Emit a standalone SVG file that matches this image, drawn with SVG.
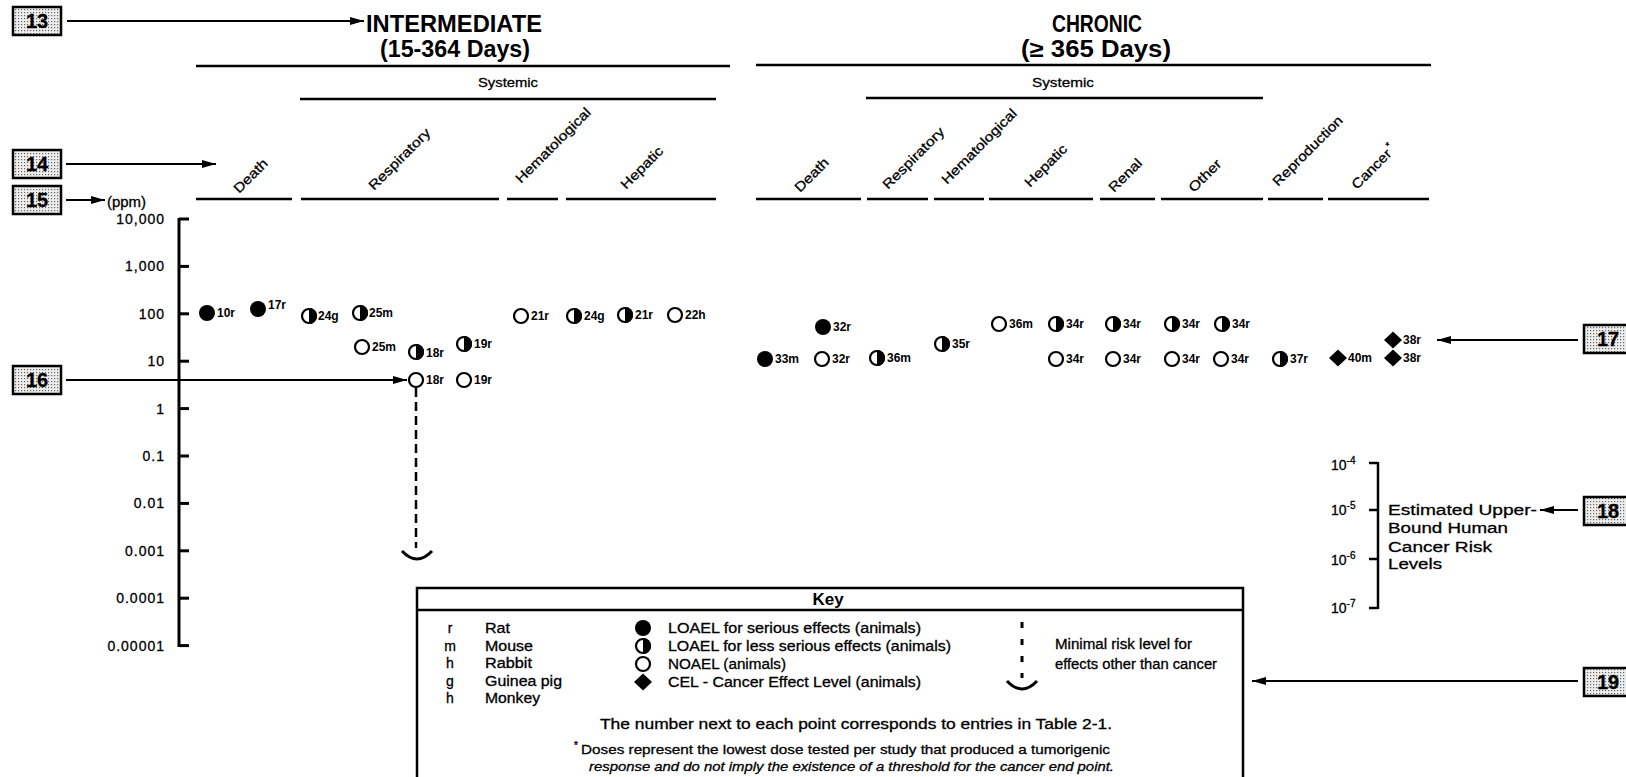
<svg xmlns="http://www.w3.org/2000/svg" width="1626" height="777" viewBox="0 0 1626 777">
<style>
text { font-family: "Liberation Sans", Arial, sans-serif; fill: #000; stroke: #000; stroke-width: 0.3px; }
.h { font-size: 23px; font-weight: bold; stroke: none; }
.sys { font-size: 13.5px; text-anchor: middle; }
.lbl { font-size: 12px; font-weight: bold; stroke: none; }
.ax { font-size: 14px; letter-spacing: 1px; text-anchor: end; }
.rot { font-size: 13.5px; }
.key { font-size: 14px; }
.fn { font-size: 13.5px; }
.num { font-size: 20px; font-weight: bold; text-anchor: middle; }
.ln { stroke: #000; stroke-width: 2.5; fill: none; }
.arr { stroke: #000; stroke-width: 2; fill: none; marker-end: url(#ah); }
.box { fill: url(#dots); stroke: #000; stroke-width: 2.5; }
.dash { stroke: #000; stroke-width: 2.5; fill: none; stroke-dasharray: 9 5; }
.smile { stroke: #000; stroke-width: 3; fill: none; }
</style>
<defs>
<pattern id="dots" width="3" height="3" patternUnits="userSpaceOnUse">
<rect width="3" height="3" fill="#eeeeee"/>
<rect width="1.2" height="1.2" fill="#666"/>
</pattern>
<marker id="ah" markerUnits="userSpaceOnUse" markerWidth="14" markerHeight="8" refX="14" refY="4" orient="auto">
<path d="M0,0 L14,4 L0,8 Z" fill="#000"/>
</marker>
<g id="sF"><circle r="8" fill="#000"/></g>
<g id="sH"><circle r="7" fill="#fff" stroke="#000" stroke-width="2.2"/><path d="M0,-8 A8,8 0 0 1 0,8 Z" fill="#000"/></g>
<g id="sO"><circle r="7" fill="#fff" stroke="#000" stroke-width="2.2"/></g>
<g id="sD"><path d="M0,-8.5 L9,0 L0,8.5 L-9,0 Z" fill="#000"/></g>
</defs>
<rect width="1626" height="777" fill="#fff"/>

<!-- numbered callout boxes -->
<g id="box13"><rect class="box" x="13" y="7" width="48" height="28"/><text class="num" x="37" y="28">13</text></g>
<g id="box14"><rect class="box" x="13" y="150" width="48" height="28"/><text class="num" x="37" y="171">14</text></g>
<g id="box15"><rect class="box" x="13" y="186" width="48" height="28"/><text class="num" x="37" y="207">15</text></g>
<g id="box16"><rect class="box" x="13" y="366" width="48" height="28"/><text class="num" x="37" y="387">16</text></g>
<g id="box17"><rect class="box" x="1584" y="325" width="48" height="28"/><text class="num" x="1608" y="346">17</text></g>
<g id="box18"><rect class="box" x="1584" y="497" width="48" height="28"/><text class="num" x="1608" y="518">18</text></g>
<g id="box19"><rect class="box" x="1584" y="668" width="48" height="28"/><text class="num" x="1608" y="689">19</text></g>

<!-- headings -->
<g id="hdr-intermediate">
<text class="h" x="366" y="32" textLength="176" lengthAdjust="spacingAndGlyphs">INTERMEDIATE</text>
<text class="h" x="380" y="57" textLength="150" lengthAdjust="spacingAndGlyphs">(15-364 Days)</text>
<line class="ln" x1="196" y1="66" x2="730" y2="66"/>
<text class="sys" x="508" y="87" textLength="60" lengthAdjust="spacingAndGlyphs">Systemic</text>
<line class="ln" x1="300" y1="99" x2="716" y2="99"/>
</g>
<g id="hdr-chronic">
<text class="h" x="1052" y="32" textLength="90" lengthAdjust="spacingAndGlyphs">CHRONIC</text>
<text class="h" x="1021" y="57" textLength="150" lengthAdjust="spacingAndGlyphs">(≥ 365 Days)</text>
<line class="ln" x1="756" y1="65" x2="1431" y2="65"/>
<text class="sys" x="1063" y="87" textLength="62" lengthAdjust="spacingAndGlyphs">Systemic</text>
<line class="ln" x1="866" y1="98" x2="1263" y2="98"/>
</g>

<!-- column labels -->
<g id="cols-intermediate">
<text class="rot" transform="translate(239,194) rotate(-45)" textLength="42" lengthAdjust="spacingAndGlyphs">Death</text>
<text class="rot" transform="translate(374,191) rotate(-45)" textLength="81" lengthAdjust="spacingAndGlyphs">Respiratory</text>
<text class="rot" transform="translate(521,184) rotate(-45)" textLength="100" lengthAdjust="spacingAndGlyphs">Hematological</text>
<text class="rot" transform="translate(626,190) rotate(-45)" textLength="54" lengthAdjust="spacingAndGlyphs">Hepatic</text>
<line class="ln" x1="196" y1="199" x2="292" y2="199"/>
<line class="ln" x1="301" y1="199" x2="499" y2="199"/>
<line class="ln" x1="507" y1="199" x2="558" y2="199"/>
<line class="ln" x1="566" y1="199" x2="716" y2="199"/>
</g>
<g id="cols-chronic">
<text class="rot" transform="translate(800,193) rotate(-45)" textLength="42" lengthAdjust="spacingAndGlyphs">Death</text>
<text class="rot" transform="translate(888,190) rotate(-45)" textLength="81" lengthAdjust="spacingAndGlyphs">Respiratory</text>
<text class="rot" transform="translate(947,185) rotate(-45)" textLength="100" lengthAdjust="spacingAndGlyphs">Hematological</text>
<text class="rot" transform="translate(1030,188) rotate(-45)" textLength="54" lengthAdjust="spacingAndGlyphs">Hepatic</text>
<text class="rot" transform="translate(1114,193) rotate(-45)" textLength="41" lengthAdjust="spacingAndGlyphs">Renal</text>
<text class="rot" transform="translate(1194,193) rotate(-45)" textLength="40" lengthAdjust="spacingAndGlyphs">Other</text>
<text class="rot" transform="translate(1278,187) rotate(-45)" textLength="93" lengthAdjust="spacingAndGlyphs">Reproduction</text>
<g transform="translate(1357,190) rotate(-45)"><text class="rot" textLength="50" lengthAdjust="spacingAndGlyphs">Cancer</text><text class="rot" x="52" y="-6" style="font-size:10px">*</text></g>
<line class="ln" x1="756" y1="199" x2="861" y2="199"/>
<line class="ln" x1="867" y1="199" x2="928" y2="199"/>
<line class="ln" x1="934" y1="199" x2="984" y2="199"/>
<line class="ln" x1="989" y1="199" x2="1093" y2="199"/>
<line class="ln" x1="1100" y1="199" x2="1155" y2="199"/>
<line class="ln" x1="1161" y1="199" x2="1263" y2="199"/>
<line class="ln" x1="1268" y1="199" x2="1323" y2="199"/>
<line class="ln" x1="1328" y1="199" x2="1429" y2="199"/>
</g>

<!-- y axis -->
<g id="yaxis">
<text x="107" y="207" style="font-size:14px" textLength="39" lengthAdjust="spacingAndGlyphs">(ppm)</text>
<line x1="179" y1="218" x2="179" y2="647" stroke="#000" stroke-width="3"/>
<g stroke="#000" stroke-width="3">
<line x1="179" y1="219" x2="189" y2="219"/>
<line x1="179" y1="266.4" x2="189" y2="266.4"/>
<line x1="179" y1="313.8" x2="189" y2="313.8"/>
<line x1="179" y1="361.2" x2="189" y2="361.2"/>
<line x1="179" y1="408.6" x2="189" y2="408.6"/>
<line x1="179" y1="456" x2="189" y2="456"/>
<line x1="179" y1="503.4" x2="189" y2="503.4"/>
<line x1="179" y1="550.8" x2="189" y2="550.8"/>
<line x1="179" y1="598.2" x2="189" y2="598.2"/>
<line x1="179" y1="645.6" x2="189" y2="645.6"/>
</g>
<text class="ax" x="165" y="224">10,000</text>
<text class="ax" x="165" y="271">1,000</text>
<text class="ax" x="165" y="319">100</text>
<text class="ax" x="165" y="366">10</text>
<text class="ax" x="165" y="414">1</text>
<text class="ax" x="165" y="461">0.1</text>
<text class="ax" x="165" y="508">0.01</text>
<text class="ax" x="165" y="556">0.001</text>
<text class="ax" x="165" y="603">0.0001</text>
<text class="ax" x="165" y="651">0.00001</text>
</g>

<!-- intermediate data points -->
<g id="i-death-10r"><use href="#sF" x="207" y="313"/><text class="lbl" x="217" y="317">10r</text></g>
<g id="i-death-17r"><use href="#sF" x="258" y="309"/><text class="lbl" x="268" y="309">17r</text></g>
<g id="i-resp-24g"><use href="#sH" x="309" y="316"/><text class="lbl" x="318" y="320">24g</text></g>
<g id="i-resp-25m-loael"><use href="#sH" x="360" y="313"/><text class="lbl" x="369" y="317">25m</text></g>
<g id="i-resp-25m-noael"><use href="#sO" x="362" y="347"/><text class="lbl" x="372" y="351">25m</text></g>
<g id="i-resp-18r-loael"><use href="#sH" x="416" y="352"/><text class="lbl" x="426" y="357">18r</text></g>
<g id="i-resp-19r-loael"><use href="#sH" x="464" y="344"/><text class="lbl" x="474" y="348">19r</text></g>
<g id="i-resp-18r-noael"><use href="#sO" x="416" y="380"/><text class="lbl" x="426" y="384">18r</text></g>
<g id="i-resp-19r-noael"><use href="#sO" x="464" y="380"/><text class="lbl" x="474" y="384">19r</text></g>
<g id="i-hema-21r"><use href="#sO" x="521" y="316"/><text class="lbl" x="531" y="320">21r</text></g>
<g id="i-hep-24g"><use href="#sH" x="574" y="316"/><text class="lbl" x="584" y="320">24g</text></g>
<g id="i-hep-21r"><use href="#sH" x="625" y="315"/><text class="lbl" x="635" y="319">21r</text></g>
<g id="i-hep-22h"><use href="#sO" x="675" y="315"/><text class="lbl" x="685" y="319">22h</text></g>

<!-- chronic data points -->
<g id="c-death-33m"><use href="#sF" x="765" y="359"/><text class="lbl" x="775" y="363">33m</text></g>
<g id="c-death-32r-loael"><use href="#sF" x="823" y="327"/><text class="lbl" x="833" y="331">32r</text></g>
<g id="c-death-32r-noael"><use href="#sO" x="822" y="359"/><text class="lbl" x="832" y="363">32r</text></g>
<g id="c-resp-36m"><use href="#sH" x="877" y="358"/><text class="lbl" x="887" y="362">36m</text></g>
<g id="c-hema-35r"><use href="#sH" x="942" y="344"/><text class="lbl" x="952" y="348">35r</text></g>
<g id="c-hep-36m"><use href="#sO" x="999" y="324"/><text class="lbl" x="1009" y="328">36m</text></g>
<g id="c-hep-34r-loael"><use href="#sH" x="1056" y="324"/><text class="lbl" x="1066" y="328">34r</text></g>
<g id="c-hep-34r-noael"><use href="#sO" x="1056" y="359"/><text class="lbl" x="1066" y="363">34r</text></g>
<g id="c-renal-34r-loael"><use href="#sH" x="1113" y="324"/><text class="lbl" x="1123" y="328">34r</text></g>
<g id="c-renal-34r-noael"><use href="#sO" x="1113" y="359"/><text class="lbl" x="1123" y="363">34r</text></g>
<g id="c-other-34r-loael-a"><use href="#sH" x="1172" y="324"/><text class="lbl" x="1182" y="328">34r</text></g>
<g id="c-other-34r-loael-b"><use href="#sH" x="1222" y="324"/><text class="lbl" x="1232" y="328">34r</text></g>
<g id="c-other-34r-noael-a"><use href="#sO" x="1172" y="359"/><text class="lbl" x="1182" y="363">34r</text></g>
<g id="c-other-34r-noael-b"><use href="#sO" x="1221" y="359"/><text class="lbl" x="1231" y="363">34r</text></g>
<g id="c-repro-37r"><use href="#sH" x="1280" y="359"/><text class="lbl" x="1290" y="363">37r</text></g>
<g id="c-cancer-40m"><use href="#sD" x="1338" y="358"/><text class="lbl" x="1348" y="362">40m</text></g>
<g id="c-cancer-38r-a"><use href="#sD" x="1393" y="340"/><text class="lbl" x="1403" y="344">38r</text></g>
<g id="c-cancer-38r-b"><use href="#sD" x="1393" y="358"/><text class="lbl" x="1403" y="362">38r</text></g>

<!-- cancer risk scale -->
<g id="risk-scale">
<line x1="1378" y1="462" x2="1378" y2="609" stroke="#000" stroke-width="2.5"/>
<g stroke="#000" stroke-width="2.5">
<line x1="1369" y1="463" x2="1378" y2="463"/>
<line x1="1369" y1="510" x2="1378" y2="510"/>
<line x1="1369" y1="559" x2="1378" y2="559"/>
<line x1="1369" y1="608" x2="1378" y2="608"/>
</g>
<text class="key" x="1331" y="470">10<tspan dy="-6" style="font-size:10px">-4</tspan></text>
<text class="key" x="1331" y="515">10<tspan dy="-6" style="font-size:10px">-5</tspan></text>
<text class="key" x="1331" y="565">10<tspan dy="-6" style="font-size:10px">-6</tspan></text>
<text class="key" x="1331" y="613">10<tspan dy="-6" style="font-size:10px">-7</tspan></text>
<text x="1388" y="515" style="font-size:15.5px" textLength="149" lengthAdjust="spacingAndGlyphs">Estimated Upper-</text>
<text x="1388" y="533" style="font-size:15.5px" textLength="120" lengthAdjust="spacingAndGlyphs">Bound Human</text>
<text x="1388" y="552" style="font-size:15.5px" textLength="104" lengthAdjust="spacingAndGlyphs">Cancer Risk</text>
<text x="1388" y="569" style="font-size:15.5px" textLength="54" lengthAdjust="spacingAndGlyphs">Levels</text>
</g>

<!-- key -->
<g id="key">
<rect x="417" y="588" width="826" height="200" fill="none" stroke="#000" stroke-width="2.5"/>
<line class="ln" x1="417" y1="610" x2="1243" y2="610"/>
<text x="828" y="605" style="font-size:17px;font-weight:bold;text-anchor:middle;stroke:none">Key</text>
<g style="text-anchor:middle">
<text class="key" x="450" y="633">r</text>
<text class="key" x="450" y="650.5">m</text>
<text class="key" x="450" y="668">h</text>
<text class="key" x="450" y="685.5">g</text>
<text class="key" x="450" y="703">h</text>
</g>
<text class="key" x="485" y="633" textLength="25" lengthAdjust="spacingAndGlyphs">Rat</text>
<text class="key" x="485" y="650.5" textLength="48" lengthAdjust="spacingAndGlyphs">Mouse</text>
<text class="key" x="485" y="668" textLength="47" lengthAdjust="spacingAndGlyphs">Rabbit</text>
<text class="key" x="485" y="685.5" textLength="77" lengthAdjust="spacingAndGlyphs">Guinea pig</text>
<text class="key" x="485" y="703" textLength="55" lengthAdjust="spacingAndGlyphs">Monkey</text>
<use href="#sF" x="643" y="628"/>
<use href="#sH" x="643" y="646"/>
<use href="#sO" x="643" y="664"/>
<use href="#sD" x="643" y="682"/>
<text class="key" x="668" y="633" textLength="253" lengthAdjust="spacingAndGlyphs">LOAEL for serious effects (animals)</text>
<text class="key" x="668" y="651" textLength="283" lengthAdjust="spacingAndGlyphs">LOAEL for less serious effects (animals)</text>
<text class="key" x="668" y="669" textLength="118" lengthAdjust="spacingAndGlyphs">NOAEL (animals)</text>
<text class="key" x="668" y="687" textLength="253" lengthAdjust="spacingAndGlyphs">CEL - Cancer Effect Level (animals)</text>
<line x1="1022" y1="622" x2="1022" y2="678" stroke="#000" stroke-width="3" stroke-dasharray="6 11"/>
<path class="smile" d="M1007,681 Q1022,697 1037,681"/>
<text class="key" x="1055" y="649" textLength="137" lengthAdjust="spacingAndGlyphs">Minimal risk level for</text>
<text class="key" x="1055" y="669" textLength="162" lengthAdjust="spacingAndGlyphs">effects other than cancer</text>
<text class="key" x="600" y="729" textLength="512" lengthAdjust="spacingAndGlyphs">The number next to each point corresponds to entries in Table 2-1.</text>
<text class="fn" x="574" y="749" style="font-size:10px">*</text>
<text class="fn" x="581" y="754" textLength="529" lengthAdjust="spacingAndGlyphs">Doses represent the lowest dose tested per study that produced a tumorigenic</text>
<text class="fn" x="589" y="771" style="font-style:italic" textLength="525" lengthAdjust="spacingAndGlyphs">response and do not imply the existence of a threshold for the cancer end point.</text>
</g>

<!-- connectors -->
<g id="connectors">
<line class="arr" x1="67" y1="21" x2="364" y2="21"/>
<line class="arr" x1="66" y1="164" x2="216" y2="164"/>
<line class="arr" x1="66" y1="200" x2="105" y2="200"/>
<line class="arr" x1="66" y1="380" x2="407" y2="380"/>
<line class="arr" x1="1578" y1="340" x2="1437" y2="340"/>
<line class="arr" x1="1578" y1="510" x2="1540" y2="510"/>
<line class="arr" x1="1578" y1="681" x2="1252" y2="681"/>
<line class="dash" x1="416" y1="388" x2="416" y2="548"/>
<path class="smile" d="M402,551 Q417,567 432,551"/>
</g>
</svg>
